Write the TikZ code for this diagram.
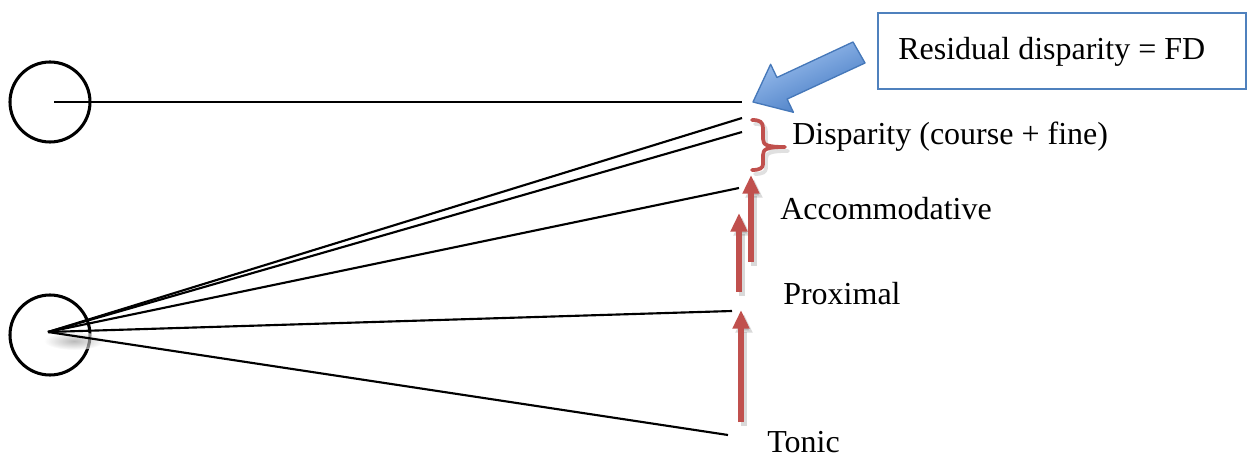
\documentclass[tikz,border=0pt]{standalone}
\usepackage{fontspec}
\setmainfont{Liberation Serif}
\usetikzlibrary{arrows.meta}
\definecolor{redarr}{RGB}{192,80,77}
\definecolor{boxblue}{RGB}{79,129,189}
\definecolor{arrlight}{RGB}{165,198,242}
\definecolor{arrdark}{RGB}{62,117,192}
\definecolor{arredge}{RGB}{70,120,185}
\begin{document}
\begin{tikzpicture}[x=0.75pt,y=-0.75pt,
  ray/.style={line width=1.6pt, black},
  eye/.style={circle, draw, line width=2.3pt, minimum size=60pt, inner sep=0pt},
  lbl/.style={anchor=base west, font=\fontsize{24}{28}\selectfont, inner sep=0pt},
  redarrow/.style={line width=4.5pt, redarr, -{Triangle[width=12pt,length=14pt]}},
  shadowarrow/.style={line width=4.5pt, black, opacity=0.15, -{Triangle[width=12pt,length=14pt]}},
  bracestyle/.style={line width=2.8pt, redarr, line cap=round, line join=round},
  infobox/.style={draw=boxblue, line width=1.6pt, minimum width=276pt, minimum height=57pt, anchor=north west, inner sep=0pt},
]
\useasboundingbox (0,0) rectangle (1251,459);
% eyes
\node[eye] (eyeT) at (50,102) {};
\node[eye] (eyeB) at (50,335) {};
\coordinate (oT) at (54,102);
\coordinate (oB) at (48,332);
% end points of the rays
\coordinate (pF) at (742,102);
\coordinate (pD1) at (742,118);
\coordinate (pD2) at (742,132);
\coordinate (pA) at (739,188);
\coordinate (pP) at (732,311);
\coordinate (pT) at (728,435);
% soft shadow at the convergence point
\shade[inner color=black!45, outer color=white, opacity=0.6] (74,341) ellipse [x radius=30, y radius=9];
% rays
\draw[ray] (oT) -- (pF);
\foreach \p in {pD1,pD2,pA,pP,pT} \draw[ray] (oB) -- (\p);
% red arrows
\coordinate (a1s) at (751,262); \coordinate (a1e) at (751,175);
\coordinate (a2s) at (739,292); \coordinate (a2e) at (739,213);
\coordinate (a3s) at (741,422); \coordinate (a3e) at (741,310);
\draw[shadowarrow] ([shift={(3,4)}]a1s) -- ([shift={(3,4)}]a1e);
\draw[shadowarrow] ([shift={(3,4)}]a2s) -- ([shift={(3,4)}]a2e);
\draw[shadowarrow] ([shift={(3,4)}]a3s) -- ([shift={(3,4)}]a3e);
\draw[redarrow] (a1s) -- (a1e);
\draw[redarrow] (a2s) -- (a2e);
\draw[redarrow] (a3s) -- (a3e);
% brace
\draw[bracestyle, black, opacity=0.12] (755,124) .. controls (763,124) and (766,126) .. (766,132) -- (766,143) .. controls (766,149) and (770,151) .. (788,151) .. controls (770,151) and (766,153) .. (766,159) -- (766,168) .. controls (766,172) and (763,174) .. (755,174);
\draw[bracestyle] (752,120) .. controls (760,120) and (763,122) .. (763,128) -- (763,139) .. controls (763,145) and (767,147) .. (785,147) .. controls (767,147) and (763,149) .. (763,155) -- (763,164) .. controls (763,168) and (760,170) .. (752,170);
% blue block arrow
\shade[top color=arrlight, bottom color=arrdark, shading angle=25, draw=arredge, line width=1pt, line join=round]
  (853,42) -- (776.9,77.5) -- (770.6,64.3) -- (753,102) -- (793.4,112.3) -- (787.1,99.1) -- (865,63) -- cycle;
% box and labels
\node[infobox] (box) at (877,12) {};
\node[lbl] (tRes) at (898,60) {Residual disparity = FD};
\node[lbl] (tDisp) at (792,145) {Disparity (course + fine)};
\node[lbl] (tAcc) at (780,220) {Accommodative};
\node[lbl] (tProx) at (783,305) {Proximal};
\node[lbl] (tTon) at (767,452) {Tonic};
\end{tikzpicture}
\end{document}
